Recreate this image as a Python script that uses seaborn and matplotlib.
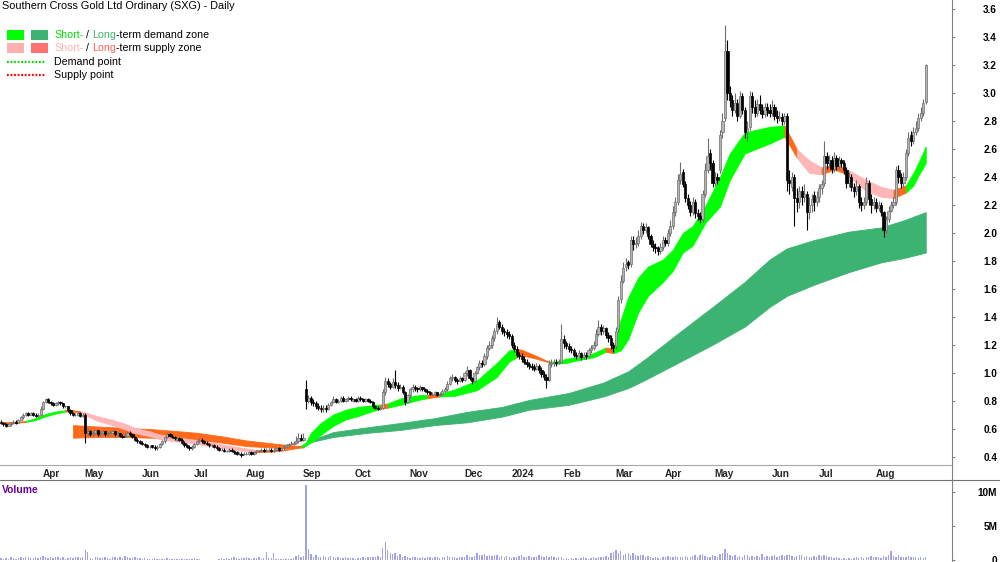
import numpy as np
import pandas as pd
import matplotlib
matplotlib.use("Agg")
import matplotlib.pyplot as plt
import seaborn as sns
from matplotlib.lines import Line2D
from matplotlib.patches import Rectangle
from matplotlib.transforms import ScaledTranslation


#########################################################################################################################
# Data: SXG daily bars, 10 Mar 2023 - 30 Aug 2024 (ASX trading days)

asx_holidays = ['2023-04-07', '2023-04-10', '2023-04-25', '2023-06-12', '2023-12-25', '2023-12-26',
                '2024-01-01', '2024-01-26', '2024-03-29', '2024-04-01', '2024-04-25', '2024-06-10']

close = [
    # Mar 23
    .64, .63, .62, .63, .64, .65, .64, .66, .68, .70, .71, .70, .71, .70, .69, .70,
    # Apr
    .74, .79, .81, .79, .78, .77, .78, .79, .78, .76, .76, .73, .71, .70, .70, .71, .69,
    # May
    .70, .57, .58, .56, .57, .59, .56, .57, .58, .56, .57, .57, .58, .56, .57, .55, .54, .55, .57, .56, .54, .52, .51,
    # Jun
    .50, .49, .48, .47, .47, .47, .46, .47, .49, .51, .54, .56, .55, .54, .53, .53, .52, .50, .48, .47, .46,
    # Jul
    .47, .49, .51, .52, .51, .50, .49, .48, .48, .47, .46, .45, .45, .44, .44, .45, .44, .43, .42, .42, .41,
    # Aug
    .42, .42, .43, .42, .43, .44, .44, .45, .44, .45, .45, .44, .45, .46, .45, .46, .47, .48, .49, .49, .50, .51, .53,
    # Sep
    .52, .53, .80, .82, .79, .78, .76, .75, .74, .75, .74, .77, .79, .81, .79, .80, .82, .80, .81, .82, .81,
    # Oct
    .81, .80, .82, .81, .80, .81, .80, .79, .76, .75, .74, .75, .86, .94, .92, .90, .93, .91, .89, .90, .86, .79,
    # Nov
    .84, .88, .90, .89, .88, .90, .88, .87, .86, .85, .85, .86, .84, .85, .87, .88, .92, .96, .97, .95, .94, .96,
    # Dec
    .95, 1.00, 1.02, .96, .94, 1.00, 1.04, 1.07, 1.06, 1.12, 1.18, 1.20, 1.25, 1.30, 1.35, 1.33, 1.30, 1.29, 1.28,
    # Jan 24
    1.26, 1.20, 1.17, 1.13, 1.12, 1.10, 1.08, 1.06, 1.05, 1.04, 1.03, 1.05, 1.02, .99, .97, .95, 1.06, 1.07, 1.08, 1.07, 1.08,
    # Feb
    1.24, 1.21, 1.19, 1.17, 1.16, 1.13, 1.12, 1.14, 1.11, 1.13, 1.12, 1.16, 1.18, 1.20, 1.28, 1.33, 1.30, 1.32, 1.27, 1.25, 1.20,
    # Mar
    1.18, 1.30, 1.52, 1.66, 1.75, 1.78, 1.77, 1.95, 1.92, 1.93, 1.98, 2.05, 2.02, 2.04, 1.98, 1.92, 1.90, 1.89, 1.87, 1.90,
    # Apr
    1.95, 1.93, 2.00, 2.05, 2.15, 2.22, 2.38, 2.42, 2.35, 2.25, 2.20, 2.15, 2.22, 2.14, 2.12, 2.10, 2.28, 2.45, 2.55, 2.50,
    # May
    2.36, 2.40, 2.38, 2.70, 2.80, 3.30, 3.00, 2.95, 2.88, 2.93, 2.84, 2.98, 2.88, 2.72, 2.75, 2.98, 2.90, 2.86, 2.92, 2.88, 2.85, 2.90, 2.88,
    # Jun
    2.86, 2.90, 2.84, 2.82, 2.83, 2.80, 2.84, 2.38, 2.36, 2.40, 2.25, 2.22, 2.30, 2.26, 2.28, 2.15, 2.20, 2.24, 2.22,
    # Jul
    2.26, 2.32, 2.35, 2.55, 2.50, 2.52, 2.46, 2.54, 2.48, 2.52, 2.50, 2.45, 2.36, 2.40, 2.33, 2.30, 2.34, 2.22, 2.20, 2.22, 2.36, 2.24, 2.20,
    # Aug
    2.22, 2.18, 2.20, 2.15, 2.02, 2.10, 2.16, 2.20, 2.22, 2.45, 2.40, 2.36, 2.40, 2.57, 2.68, 2.66, 2.72, 2.75, 2.82, 2.86, 2.93, 3.20,
]

open_ = [
    .65, .64, .63, .62, .63, .64, .65, .64, .66, .68, .70, .71, .70, .71, .70, .69,
    .70, .74, .79, .81, .79, .78, .77, .78, .79, .78, .76, .76, .73, .71, .70, .70, .71,
    .69, .70, .57, .58, .56, .57, .59, .56, .57, .58, .56, .57, .57, .58, .56, .57, .55, .54, .55, .57, .56, .54, .52,
    .51, .50, .49, .48, .47, .48, .47, .46, .47, .49, .51, .54, .56, .55, .54, .52, .53, .52, .50, .48, .47,
    .46, .47, .49, .51, .52, .51, .50, .49, .48, .48, .47, .46, .45, .45, .44, .44, .45, .44, .43, .42, .42,
    .42, .42, .42, .43, .42, .43, .44, .44, .45, .44, .45, .45, .44, .45, .46, .45, .46, .47, .48, .49, .49, .50, .51,
    .53, .52, .88, .80, .82, .79, .78, .76, .75, .74, .75, .74, .77, .79, .81, .79, .80, .82, .80, .81, .82,
    .80, .81, .80, .82, .81, .80, .81, .80, .79, .76, .75, .74, .75, .86, .94, .92, .90, .93, .91, .89, .90, .86,
    .79, .84, .88, .90, .89, .88, .90, .88, .87, .86, .85, .85, .86, .84, .85, .87, .88, .92, .96, .97, .95, .94,
    .96, .95, 1.00, 1.02, .96, .94, 1.00, 1.04, 1.07, 1.06, 1.12, 1.18, 1.20, 1.25, 1.30, 1.36, 1.33, 1.30, 1.29,
    1.28, 1.26, 1.20, 1.17, 1.13, 1.12, 1.10, 1.08, 1.06, 1.05, 1.04, 1.03, 1.05, 1.02, .99, .97, .95, 1.06, 1.07, 1.08, 1.07,
    1.08, 1.24, 1.21, 1.19, 1.17, 1.16, 1.13, 1.12, 1.14, 1.11, 1.13, 1.12, 1.16, 1.18, 1.20, 1.28, 1.33, 1.30, 1.32, 1.27, 1.25,
    1.20, 1.19, 1.31, 1.53, 1.66, 1.76, 1.79, 1.78, 1.95, 1.92, 1.93, 1.98, 2.05, 2.02, 2.04, 1.98, 1.92, 1.90, 1.89, 1.87,
    1.90, 1.95, 1.93, 2.00, 2.05, 2.15, 2.22, 2.38, 2.44, 2.35, 2.25, 2.20, 2.15, 2.22, 2.14, 2.12, 2.10, 2.28, 2.45, 2.57,
    2.50, 2.36, 2.40, 2.45, 2.72, 2.82, 3.30, 3.00, 2.95, 2.88, 2.93, 2.84, 2.98, 2.88, 2.72, 2.76, 2.98, 2.90, 2.86, 2.92, 2.88, 2.85, 2.90,
    2.88, 2.86, 2.90, 2.84, 2.82, 2.83, 2.80, 2.84, 2.38, 2.33, 2.40, 2.25, 2.22, 2.30, 2.26, 2.28, 2.15, 2.20, 2.27,
    2.22, 2.26, 2.32, 2.36, 2.55, 2.50, 2.52, 2.46, 2.54, 2.48, 2.52, 2.50, 2.45, 2.36, 2.40, 2.33, 2.30, 2.34, 2.22, 2.20, 2.22, 2.36, 2.24,
    2.20, 2.22, 2.18, 2.20, 2.15, 2.02, 2.10, 2.16, 2.20, 2.22, 2.45, 2.40, 2.36, 2.40, 2.57, 2.70, 2.66, 2.72, 2.75, 2.82, 2.86, 2.94,
]

high = [
    .66, .65, .64, .64, .65, .66, .66, .67, .69, .71, .72, .72, .72, .72, .71, .71,
    .76, .80, .82, .82, .80, .79, .79, .80, .80, .78, .77, .76, .74, .72, .71, .72, .72,
    .71, .71, .60, .59, .58, .60, .59, .58, .59, .58, .58, .58, .59, .58, .58, .57, .56, .57, .58, .58, .56, .55, .53,
    .52, .51, .50, .49, .48, .48, .48, .48, .50, .52, .55, .57, .57, .56, .55, .54, .54, .53, .51, .49, .48,
    .48, .50, .52, .53, .53, .52, .51, .50, .49, .49, .48, .47, .46, .46, .45, .46, .46, .45, .44, .43, .43,
    .43, .43, .44, .44, .44, .45, .45, .46, .46, .46, .46, .46, .46, .47, .47, .47, .48, .49, .50, .51, .51, .55, .57,
    .56, .57, .95, .84, .83, .81, .80, .78, .77, .77, .77, .78, .80, .83, .82, .81, .83, .83, .82, .83, .83,
    .82, .82, .83, .83, .82, .82, .82, .81, .80, .77, .76, .76, .88, .97, .96, .93, .96, 1.02, .93, .92, .91, .87,
    .85, .89, .92, .91, .90, .91, .90, .89, .88, .87, .86, .87, .86, .86, .88, .90, .94, .98, .99, .98, .96, .98,
    .97, 1.01, 1.05, 1.03, .97, 1.01, 1.05, 1.09, 1.09, 1.14, 1.20, 1.23, 1.27, 1.32, 1.40, 1.38, 1.35, 1.32, 1.31,
    1.30, 1.28, 1.22, 1.19, 1.15, 1.14, 1.12, 1.10, 1.08, 1.07, 1.06, 1.07, 1.06, 1.04, 1.01, .99, 1.09, 1.10, 1.10, 1.10, 1.10,
    1.35, 1.27, 1.23, 1.21, 1.19, 1.18, 1.15, 1.16, 1.15, 1.15, 1.15, 1.18, 1.20, 1.23, 1.31, 1.38, 1.35, 1.34, 1.33, 1.29, 1.27,
    1.22, 1.33, 1.55, 1.70, 1.79, 1.82, 1.81, 1.98, 1.98, 1.97, 2.02, 2.08, 2.07, 2.07, 2.05, 1.99, 1.95, 1.93, 1.91, 1.93,
    1.98, 1.97, 2.03, 2.09, 2.19, 2.26, 2.42, 2.51, 2.46, 2.37, 2.28, 2.23, 2.26, 2.24, 2.17, 2.15, 2.31, 2.50, 2.68, 2.60,
    2.52, 2.44, 2.43, 2.74, 2.86, 3.49, 3.38, 3.05, 2.99, 3.00, 2.96, 3.02, 3.00, 2.90, 2.80, 3.02, 3.01, 2.95, 2.96, 2.99, 2.92, 2.93, 2.93,
    2.92, 2.95, 2.92, 2.88, 2.87, 2.86, 2.86, 2.86, 2.45, 2.44, 2.42, 2.32, 2.34, 2.34, 2.35, 2.30, 2.26, 2.28, 2.30,
    2.30, 2.35, 2.38, 2.66, 2.58, 2.56, 2.55, 2.58, 2.56, 2.55, 2.54, 2.52, 2.47, 2.44, 2.42, 2.36, 2.38, 2.35, 2.26, 2.26, 2.40, 2.38, 2.28,
    2.26, 2.25, 2.23, 2.22, 2.16, 2.12, 2.19, 2.23, 2.26, 2.48, 2.49, 2.43, 2.44, 2.60, 2.72, 2.73, 2.76, 2.80, 2.86, 2.90, 2.96, 3.21,
]

low = [
    .63, .62, .61, .62, .62, .63, .63, .64, .66, .67, .69, .69, .70, .69, .68, .68,
    .69, .73, .78, .78, .77, .76, .76, .77, .77, .75, .75, .72, .70, .69, .69, .69, .68,
    .68, .50, .55, .55, .55, .56, .55, .55, .56, .55, .55, .56, .56, .55, .55, .54, .53, .54, .55, .55, .53, .51, .50,
    .49, .48, .47, .46, .46, .46, .45, .45, .46, .48, .50, .53, .54, .53, .52, .51, .51, .49, .47, .46, .45,
    .45, .46, .48, .50, .50, .49, .48, .47, .47, .46, .45, .44, .44, .43, .43, .43, .43, .42, .41, .41, .40,
    .41, .41, .41, .41, .41, .42, .43, .43, .43, .43, .44, .43, .43, .44, .44, .44, .45, .46, .47, .48, .48, .49, .50,
    .51, .51, .74, .78, .77, .76, .74, .73, .72, .72, .72, .73, .76, .78, .78, .78, .79, .79, .79, .80, .80,
    .79, .79, .79, .80, .79, .79, .79, .78, .75, .74, .73, .73, .74, .84, .90, .88, .89, .89, .87, .88, .85, .77,
    .78, .82, .86, .87, .86, .87, .87, .86, .85, .84, .83, .84, .83, .83, .84, .86, .87, .91, .94, .93, .92, .93,
    .93, .94, .98, .95, .92, .93, .99, 1.02, 1.04, 1.05, 1.10, 1.16, 1.18, 1.23, 1.28, 1.31, 1.28, 1.26, 1.25,
    1.24, 1.18, 1.15, 1.11, 1.10, 1.08, 1.06, 1.04, 1.03, 1.02, 1.01, 1.02, 1.00, .97, .95, .89, .94, 1.04, 1.05, 1.05, 1.06,
    1.07, 1.18, 1.17, 1.15, 1.14, 1.11, 1.10, 1.11, 1.09, 1.10, 1.10, 1.11, 1.14, 1.16, 1.19, 1.26, 1.27, 1.28, 1.25, 1.22, 1.17,
    1.15, 1.17, 1.29, 1.50, 1.64, 1.73, 1.74, 1.76, 1.88, 1.89, 1.91, 1.96, 1.99, 2.00, 1.96, 1.90, 1.87, 1.86, 1.84, 1.85,
    1.88, 1.91, 1.91, 1.98, 2.03, 2.12, 2.20, 2.35, 2.33, 2.22, 2.17, 2.12, 2.13, 2.11, 2.09, 2.07, 2.08, 2.26, 2.43, 2.45,
    2.33, 2.34, 2.35, 2.43, 2.68, 2.80, 2.95, 2.90, 2.84, 2.86, 2.80, 2.82, 2.85, 2.68, 2.66, 2.74, 2.86, 2.83, 2.84, 2.85, 2.82, 2.83, 2.84,
    2.83, 2.84, 2.81, 2.79, 2.80, 2.77, 2.78, 2.30, 2.28, 2.30, 2.05, 2.15, 2.18, 2.20, 2.22, 2.02, 2.10, 2.15, 2.16,
    2.19, 2.22, 2.28, 2.34, 2.46, 2.47, 2.43, 2.44, 2.45, 2.46, 2.47, 2.42, 2.32, 2.33, 2.30, 2.26, 2.27, 2.18, 2.16, 2.17, 2.20, 2.20, 2.14,
    2.17, 2.15, 2.16, 2.12, 1.97, 2.00, 2.08, 2.15, 2.18, 2.20, 2.36, 2.32, 2.33, 2.38, 2.55, 2.62, 2.64, 2.70, 2.73, 2.80, 2.84, 2.92,
]

# volume in millions of shares
volume_m = [
    .3, .2, .3, .2, .4, .3, .2, .3, .4, .3, .5, .4, .3, .3, .4, .3,
    .5, .6, .4, .3, .4, .3, .5, .4, .3, .4, .2, .3, .4, .3, .5, .4, .3,
    .5, 1.4, 1.2, .3, .2, .4, .5, .3, .3, .4, .3, .2, .5, .4, .3, .5, .3, .6, .4, .3, .3, .4, .3,
    .3, .2, .3, .2, .1, .2, .3, .2, .2, .1, .2, .3, .2, .1, .2, .1, .2, .1, .2, .1, .1,
    .2, .3, .2, .1, .05, .02, .05, .02, .05, .02, .05, .2, .3, .2, .3, .2, .3, .4, .3, .2, .3,
    .3, .4, .3, .2, .3, .3, .4, .2, .3, 1.2, .3, .3, 1.0, .2, .1, .2, .1, .1, .1, .2, .3, .6, .7,
    .5, .6, 11.0, 1.6, .9, .5, .7, .4, .5, .6, .4, .5, .6, .4, .3, .4, .3, .3, .4, .3, .3,
    .3, .2, .3, .3, .4, .3, .4, .5, .4, .5, .6, .5, 1.7, 2.6, 1.4, 1.1, .9, 1.0, .6, .9, .5, .6,
    .4, .3, .5, .4, .3, .3, .4, .3, .4, .5, .3, .4, .4, .3, .5, .4, .6, .4, .5, .4, .3, .4,
    .4, .5, .7, .5, .4, .6, 1.0, .8, .7, .9, .6, .7, .6, .8, .7, .5, .6, .5, .6,
    .4, .3, .5, .4, .6, .7, .5, .4, .6, .5, .4, .5, .7, .6, .5, .6, .5, .6, .4, .3, .5,
    .4, .2, .3, .2, .3, .2, .3, .2, .3, .4, .3, .2, .3, .5, .3, .4, .4, .5, .6, .4, 1.0,
    1.2, 1.4, 1.0, 1.3, .8, .9, 1.0, .8, 1.1, .7, .6, .8, .7, .5, .6, .5, .3, .4, .3, .2,
    .5, .4, .6, .4, .5, .6, .5, .4, .5, .6, .5, .4, .6, .7, .5, .8, .9, .6, .5, .4,
    .8, .6, .5, .9, 1.1, 1.6, 1.0, .8, .6, .7, .5, .6, .5, .7, .8, .5, .6, .5, .6, .5, .9, .5, .6,
    .5, .6, .7, .5, .6, .8, .6, .8, .7, .6, .5, .6, .7, .8, .5, .6, .4, .5, .6,
    .5, .7, .6, .8, .6, .5, .4, .3, .4, .3, .2, .3, .2, .3, .2, .3, .4, .3, .4, .3, .5, .4, .6,
    .4, .5, .4, .3, .6, .5, .7, 1.3, .6, .5, .8, .4, .5, .4, .6, .4, .5, .4, .3, .4, .3, .5,
]

# short-term zone: bar number, upper edge, lower edge, state
# state: G demand, P supply, O supply (strong)
short_bar = [0, 5, 10, 14, 18, 22, 26, 28, 32, 36, 39, 45, 50, 54, 60, 64, 69, 74, 79, 84, 89, 94, 99, 103,
             109, 114, 119, 121, 123, 125, 129, 134, 139, 144, 149, 153, 156, 161, 165, 169, 172, 177, 183,
             192, 200, 205, 208, 210, 216, 221, 224, 228, 234, 239, 244, 247, 250, 253, 257, 261, 267, 271,
             275, 279, 284, 290, 294, 300, 310, 316, 321, 326, 331, 336, 340, 345, 349, 355, 360, 365, 368,
             370, 373]
short_top = [.648, .648, .655, .675, .705, .722, .732, .733, .725, .705, .688, .662, .635, .605, .580, .558,
             .542, .530, .518, .502, .487, .472, .458, .448, .442, .450, .468, .478, .50, .57, .64, .70, .735,
             .755, .765, .772, .78, .815, .83, .84, .842, .85, .88, .945, 1.07, 1.16, 1.17, 1.165, 1.12, 1.078,
             1.08, 1.10, 1.115, 1.14, 1.18, 1.17, 1.38, 1.54, 1.68, 1.76, 1.81, 1.88, 2.00, 2.05, 2.19, 2.40,
             2.57, 2.72, 2.76, 2.77, 2.60, 2.52, 2.47, 2.49, 2.465, 2.42, 2.38, 2.33, 2.31, 2.34, 2.43, 2.50, 2.62]
short_bot = [.638, .640, .648, .662, .688, .708, .722, .726, .712, .680, .655, .625, .595, .568, .545, .525,
             .512, .502, .490, .476, .462, .448, .437, .433, .435, .444, .460, .470, .478, .50, .555, .62, .665,
             .69, .72, .742, .75, .77, .79, .808, .818, .83, .835, .875, .97, 1.08, 1.11, 1.125, 1.10, 1.074,
             1.065, 1.07, 1.095, 1.11, 1.15, 1.14, 1.16, 1.24, 1.43, 1.55, 1.65, 1.73, 1.86, 1.91, 2.07, 2.19,
             2.38, 2.57, 2.64, 2.69, 2.54, 2.43, 2.42, 2.455, 2.43, 2.36, 2.30, 2.26, 2.25, 2.29, 2.34, 2.41, 2.50]
short_state = "OOGGGGOOPPPPPPPPPPPPPPPOOOOGGGGGGGGOGGGGOGGGGGOOOGGGGGOGGGGGGGGGGGGGGOPPOOPPPPOGGGG"

# long-term zone: O supply, L demand
long_bar = [29, 39, 50, 60, 69, 79, 89, 99, 109, 117, 122, 124, 134, 148, 161, 175, 188, 202, 213, 229, 243,
            253, 260, 273, 287, 300, 310, 317, 328, 342, 355, 364, 373]
long_top = [.625, .615, .605, .597, .585, .57, .545, .515, .495, .48, .475, .51, .575, .61, .64, .675, .72,
            .755, .805, .855, .93, 1.01, 1.10, 1.28, 1.47, 1.65, 1.81, 1.89, 1.95, 2.01, 2.04, 2.09, 2.15]
long_bot = [.535, .54, .54, .535, .528, .52, .50, .475, .465, .46, .465, .50, .54, .57, .59, .625, .645,
            .685, .735, .77, .83, .89, .95, 1.07, 1.20, 1.33, 1.47, 1.55, 1.63, 1.72, 1.79, 1.82, 1.86]
long_state = "OOOOOOOOOOLLLLLLLLLLLLLLLLLLLLLLL"


#########################################################################################################################
# Prepare

dates = pd.bdate_range('2023-03-10', '2024-08-30')
dates = dates[~dates.isin(pd.to_datetime(asx_holidays))]
n = len(dates)
for name, arr in [('close', close), ('open', open_), ('high', high), ('low', low), ('volume', volume_m)]:
    assert len(arr) == n, (name, len(arr), n)
assert len(short_bar) == len(short_top) == len(short_bot) == len(short_state)
assert len(long_bar) == len(long_top) == len(long_bot) == len(long_state)

bars = pd.DataFrame({'date': dates, 'open': open_, 'high': high, 'low': low,
                     'close': close, 'volume': volume_m})
bars['x'] = np.arange(n)
bars['up'] = bars['close'] >= bars['open']

month_start = bars.index[bars['date'].dt.month != bars['date'].dt.month.shift()][1:]
month_labels = [('2024' if bars.loc[i, 'date'].month == 1 else bars.loc[i, 'date'].strftime('%b'))
                for i in month_start]

zone_colours = {'G': '#00ff00', 'L': '#3cb371', 'P': '#ffb6b6', 'O': '#ff6a1a'}


#########################################################################################################################
# Style

sns.set_style('white')
plt.rcParams['font.family'] = ['Liberation Sans', 'DejaVu Sans']

W, H = 1000, 562
fig = plt.figure(figsize=(W / 100, H / 100), dpi=100)
ax = fig.add_axes([0, 97 / H, 952 / W, 465 / H])
axv = fig.add_axes([0, 0, 952 / W, 82 / H])


def draw_zone(axis, xs, top, bot, states, z):
    xs, top, bot = np.asarray(xs, float), np.asarray(top), np.asarray(bot)
    start = 0
    for k in range(1, len(xs)):
        if k == len(xs) - 1 or states[k] != states[start]:
            sl = slice(start, k + 1)
            col = zone_colours[states[start]]
            axis.fill_between(xs[sl], bot[sl], top[sl], color=col, lw=0.6, zorder=z)
            start = k


draw_zone(ax, long_bar, long_top, long_bot, long_state, 1)
draw_zone(ax, short_bar, short_top, short_bot, short_state, 2)

# Candles
wick_col = np.where(bars['up'], '#6e6e6e', 'black')
ax.vlines(bars['x'], bars['low'], bars['high'], colors=wick_col, lw=0.8, zorder=3)
up = bars[bars['up']]
dn = bars[~bars['up']]
ax.bar(up['x'], up['close'] - up['open'], bottom=up['open'], width=0.9,
       color='#b4b4b4', edgecolor='#6e6e6e', lw=0.5, zorder=4)
ax.bar(dn['x'], dn['open'] - dn['close'], bottom=dn['close'], width=0.9,
       color='black', edgecolor='black', lw=0.5, zorder=4)

ax.set_xlim(-0.4, 383.6)
ax.set_ylim(0.3394, 3.668)

# Volume
sns.barplot(x=bars['x'], y=bars['volume'], native_scale=True, color='#a2a2ea', saturation=1,
            width=0.55, linewidth=0, errorbar=None, ax=axv)
axv.set_xlim(-0.4, 383.6)
axv.set_ylim(-0.294, 11.765)
axv.set_xlabel('')
axv.set_ylabel('')

#########################################################################################################################
# Axes cosmetics

for a in (ax, axv):
    for s in a.spines.values():
        s.set_visible(False)
    a.yaxis.set_ticks_position('right')
    a.tick_params(axis='y', direction='out', length=2.5, width=0.8, color='#808080',
                  pad=30, labelsize=7.2, labelcolor='black')

ax.spines['bottom'].set_visible(True)
ax.spines['bottom'].set_color('#a8a8a8')
ax.spines['bottom'].set_linewidth(0.8)

ax.set_yticks(np.round(np.arange(0.4, 3.61, 0.2), 1))
ax.set_yticklabels([f'{v:.1f}' for v in np.round(np.arange(0.4, 3.61, 0.2), 1)])
axv.set_yticks([0, 5, 10])
axv.set_yticklabels(['0', '5M', '10M'])
for a in (ax, axv):
    for lbl in a.get_yticklabels():
        lbl.set_horizontalalignment('right')
        lbl.set_fontweight('bold')

ax.set_xticks(month_start)
ax.set_xticklabels(month_labels)
ax.tick_params(axis='x', direction='out', length=2.5, width=0.8, color='#808080',
               pad=0.5, labelsize=7.2)
shift = ScaledTranslation(2 / 100, 0, fig.dpi_scale_trans)
for lbl in ax.get_xticklabels():
    lbl.set_horizontalalignment('left')
    lbl.set_fontweight('bold')
    lbl.set_transform(lbl.get_transform() + shift)
axv.set_xticks([])

# frame lines
fig.add_artist(Line2D([0, 1], [1 - 480 / H, 1 - 480 / H], transform=fig.transFigure, color='#707070', lw=0.8))
fig.add_artist(Line2D([952 / W, 952 / W], [0, 1], transform=fig.transFigure, color='#808080', lw=0.8))

#########################################################################################################################
# Title and legend

fig.text(2 / W, 1 - 1 / H, 'Southern Cross Gold Ltd Ordinary (SXG) - Daily', fontsize=7.8,
         va='top', ha='left', color='black')
fig.text(2 / W, 1 - 490 / H, 'Volume', fontsize=7.4, fontweight='bold', color='#660099',
         va='center', ha='left')

renderer = fig.canvas.get_renderer()


def text_width(s, size):
    t = fig.text(0, 0, s, fontsize=size)
    w = t.get_window_extent(renderer).width
    t.remove()
    return w


def put_pieces(x_px, y_px, pieces, size=7.7):
    wx = text_width('x', size)
    prefix = ''
    for s, col in pieces:
        lead = len(s) - len(s.lstrip())
        off = text_width(prefix + s[:lead] + 'x', size) - wx if (prefix + s[:lead]) else 0
        fig.text((x_px + off) / W, 1 - y_px / H, s.strip(), color=col, fontsize=size,
                 va='center', ha='left')
        prefix += s


def swatch(x_px, y_px, w_px, h_px, col):
    fig.add_artist(Rectangle((x_px / W, 1 - (y_px + h_px) / H), w_px / W, h_px / H,
                             transform=fig.transFigure, color=col, lw=0))


swatch(7, 30, 17, 10, '#00ff00')
swatch(31, 30, 17, 10, '#3cb371')
swatch(7, 43, 17, 10, '#ffb0b0')
swatch(31, 43, 17, 10, '#ff7070')
put_pieces(54, 35, [('Short-', '#00dd00'), (' / ', 'black'), ('Long', '#3cb371'),
                    ('-term demand zone', 'black')])
put_pieces(54, 48, [('Short-', '#ffb0b0'), (' / ', 'black'), ('Long', '#ff6060'),
                    ('-term supply zone', 'black')])
for y_px, col, txt in [(62, '#00dd00', 'Demand point'), (75, '#ff0000', 'Supply point')]:
    fig.add_artist(Line2D([7 / W, 45 / W], [1 - y_px / H, 1 - y_px / H], transform=fig.transFigure,
                          color=col, lw=1.6, linestyle=(0, (0.8, 0.8))))
    put_pieces(54, y_px, [(txt, 'black')])

fig.savefig('out.png', dpi=100)
